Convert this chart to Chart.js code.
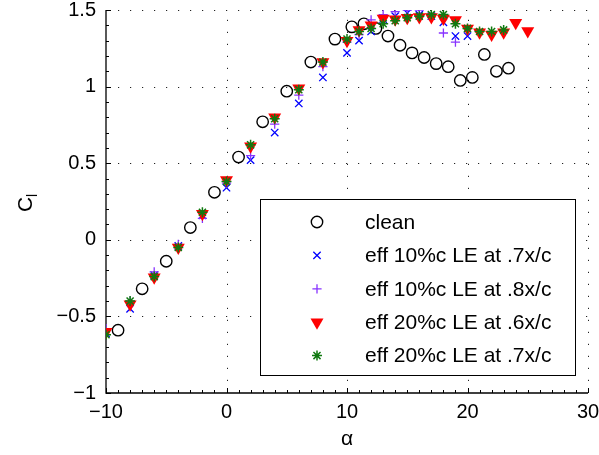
<!DOCTYPE html>
<html>
<head>
<meta charset="utf-8">
<title>Lift coefficient vs angle of attack</title>
<script src="https://cdn.jsdelivr.net/npm/chart.js"></script>
<style>
  body { margin: 0; background: #fff; }
  canvas { display: block; }
</style>
</head>
<body>
<canvas id="clChart" width="599" height="455"></canvas>
<script>
// angle of attack (deg) for the clean run and for the tripped runs
const alphaClean = [-9, -7, -5, -3, -1, 1, 3, 5, 7, 9, 10.4, 11.4, 12.4, 13.4, 14.4, 15.4, 16.4, 17.4, 18.4, 19.4, 20.4, 21.4, 22.4, 23.4];
const alphaTrip = [-10, -8, -6, -4, -2, 0, 2, 4, 6, 8, 10, 11, 12, 13, 14, 15, 16, 17, 18, 19, 20, 21, 22, 23, 24, 25];

// lift coefficient per run (tripped runs use the first N entries of alphaTrip)
const clClean = [-0.59, -0.32, -0.14, 0.08, 0.31, 0.54, 0.77, 0.97, 1.16, 1.31, 1.39, 1.41, 1.38, 1.33, 1.27, 1.22, 1.19, 1.15, 1.13, 1.04, 1.06, 1.21, 1.10, 1.12];
const cl10at7 = [-0.61, -0.45, -0.23, -0.04, 0.16, 0.34, 0.52, 0.70, 0.89, 1.06, 1.22, 1.30, 1.36, 1.44, 1.46, 1.48, 1.47, 1.46, 1.42, 1.33, 1.33];
const cl10at8 = [-0.58, -0.40, -0.21, -0.03, 0.14, 0.37, 0.55, 0.755, 0.945, 1.13, 1.29, 1.34, 1.435, 1.47, 1.49, 1.50, 1.50, 1.46, 1.35, 1.29];
const cl20at6 = [-0.60, -0.42, -0.245, -0.05, 0.17, 0.39, 0.61, 0.80, 0.99, 1.16, 1.30, 1.37, 1.40, 1.445, 1.44, 1.45, 1.455, 1.455, 1.445, 1.435, 1.38, 1.355, 1.34, 1.355, 1.417, 1.363];
const cl20at7 = [-0.62, -0.40, -0.24, -0.05, 0.18, 0.38, 0.62, 0.79, 0.98, 1.16, 1.31, 1.36, 1.38, 1.41, 1.43, 1.45, 1.46, 1.47, 1.47, 1.41, 1.38, 1.36, 1.36, 1.37];

const seriesNames = [
    'clean',
    'eff 10%c LE at .7x/c',
    'eff 10%c LE at .8x/c',
    'eff 20%c LE at .6x/c',
    'eff 20%c LE at .7x/c'
];

const xTicks = [-10, 0, 10, 20, 30];
const yTicks = [-1, -0.5, 0, 0.5, 1, 1.5];

const FONT = '"Liberation Sans", Arial, Helvetica, sans-serif';

function toPoints(xs, ys) {
    return ys.map((y, i) => ({ x: xs[i], y: y }));
}

function minusSign(v) {
    return v < 0 ? '\u2212' + Math.abs(v) : String(v);
}

// marker style for each run, shared by the plot and the legend box
const markers = [
    { pointStyle: 'circle', radius: 5.7, rotation: 0, borderWidth: 1.4, borderColor: '#000000', backgroundColor: 'rgba(0,0,0,0)' },
    { pointStyle: 'crossRot', radius: 5.2, rotation: 0, borderWidth: 1.3, borderColor: '#0000ff', backgroundColor: '#0000ff' },
    { pointStyle: 'cross', radius: 4.6, rotation: 0, borderWidth: 1.3, borderColor: '#8833ff', backgroundColor: '#8833ff' },
    { pointStyle: 'triangle', radius: 7.5, rotation: 180, borderWidth: 0, borderColor: '#ff0000', backgroundColor: '#ff0000' },
    { pointStyle: 'star', radius: 5, rotation: 0, borderWidth: 1.5, borderColor: '#107a10', backgroundColor: '#107a10' }
];

const seriesData = [
    toPoints(alphaClean, clClean),
    toPoints(alphaTrip, cl10at7),
    toPoints(alphaTrip, cl10at8),
    toPoints(alphaTrip, cl20at6),
    toPoints(alphaTrip, cl20at7)
];

// dotted grid, inward ticks and left/bottom axis lines
const axesPlugin = {
    id: 'matlabAxes',
    beforeDatasetsDraw(chart) {
        const { ctx, chartArea: a, scales: { x, y } } = chart;
        ctx.save();
        ctx.strokeStyle = '#222';
        ctx.lineWidth = 1;
        ctx.setLineDash([1.2, 10.8]);
        xTicks.forEach(v => {
            if (v === x.min) return;
            const px = Math.round(x.getPixelForValue(v)) + 0.5;
            ctx.beginPath();
            ctx.moveTo(px, a.bottom);
            ctx.lineTo(px, a.top);
            ctx.stroke();
        });
        yTicks.forEach(v => {
            if (v === y.min) return;
            const py = Math.round(y.getPixelForValue(v)) + 0.5;
            ctx.beginPath();
            ctx.moveTo(a.left, py);
            ctx.lineTo(a.right, py);
            ctx.stroke();
        });
        ctx.setLineDash([]);

        // axis lines
        ctx.strokeStyle = '#000';
        ctx.lineWidth = 1.3;
        ctx.beginPath();
        ctx.moveTo(a.left, a.top);
        ctx.lineTo(a.left, a.bottom);
        ctx.lineTo(a.right, a.bottom);
        ctx.stroke();

        // major and minor ticks, pointing into the plot
        ctx.lineWidth = 1;
        for (let v = x.min; v <= x.max; v += 1) {
            const px = Math.round(x.getPixelForValue(v)) + 0.5;
            const len = v % 10 === 0 ? 5 : 3;
            ctx.beginPath();
            ctx.moveTo(px, a.bottom);
            ctx.lineTo(px, a.bottom - len);
            ctx.stroke();
        }
        for (let k = 0; k <= 25; k++) {
            const v = y.min + k * 0.1;
            const py = Math.round(y.getPixelForValue(v)) + 0.5;
            const len = k % 5 === 0 ? 5 : 3;
            ctx.beginPath();
            ctx.moveTo(a.left, py);
            ctx.lineTo(a.left + len, py);
            ctx.stroke();
        }
        ctx.restore();
    },
    afterDraw(chart) {
        const { ctx, chartArea: a } = chart;
        ctx.save();
        ctx.fillStyle = '#000';

        // axis titles
        ctx.font = '21px ' + FONT;
        ctx.textAlign = 'center';
        ctx.textBaseline = 'middle';
        ctx.fillText('\u03b1', (a.left + a.right) / 2, 439);

        ctx.translate(24, (a.top + a.bottom) / 2);
        ctx.rotate(-Math.PI / 2);
        ctx.textAlign = 'left';
        ctx.textBaseline = 'alphabetic';
        ctx.font = '21px ' + FONT;
        const cw = ctx.measureText('C').width;
        ctx.fillText('C', -cw / 2 - 3, 8);
        ctx.font = '14px ' + FONT;
        ctx.fillText('l', cw / 2 - 3, 13);
        ctx.setTransform(1, 0, 0, 1, 0, 0);

        // legend box
        const box = { left: 260.5, top: 199.5, right: 575.5, bottom: 375.5 };
        ctx.fillStyle = '#fff';
        ctx.fillRect(box.left, box.top, box.right - box.left, box.bottom - box.top);
        ctx.strokeStyle = '#000';
        ctx.lineWidth = 1;
        ctx.strokeRect(box.left, box.top, box.right - box.left, box.bottom - box.top);

        ctx.font = '21px ' + FONT;
        ctx.textAlign = 'left';
        ctx.textBaseline = 'middle';
        seriesNames.forEach((name, i) => {
            const rowY = 222 + i * 33.4;
            const m = markers[i];
            ctx.fillStyle = m.backgroundColor;
            ctx.strokeStyle = m.borderColor;
            ctx.lineWidth = m.borderWidth;
            if (Chart.helpers && Chart.helpers.drawPoint) {
                Chart.helpers.drawPoint(ctx, m, 317, rowY);
            }
            ctx.fillStyle = '#000';
            ctx.fillText(name, 365, rowY + 1);
        });
        ctx.restore();
    }
};

const ctx = document.getElementById('clChart');

new Chart(ctx, {

    type: 'scatter',

    data: {
        datasets: seriesData.map((pts, i) => ({
            label: seriesNames[i],
            data: pts,
            showLine: false,
            order: 5 - i,
            pointStyle: markers[i].pointStyle,
            pointRadius: markers[i].radius,
            pointRotation: markers[i].rotation,
            pointBorderWidth: markers[i].borderWidth,
            pointBorderColor: markers[i].borderColor,
            pointBackgroundColor: markers[i].backgroundColor,
            pointHoverRadius: markers[i].radius
        }))
    },

    options: {

        responsive: false,

        animation: false,

        layout: {
            padding: { top: 10, right: 11, left: 0, bottom: 0 }
        },

        plugins: {
            legend: { display: false },
            tooltip: { enabled: false }
        },

        scales: {

            x: {
                type: 'linear',
                min: -10,
                max: 30,
                // fixed band below the plot; label overhang is covered by layout padding
                afterFit: s => {
                    s.height = 62;
                    s.paddingLeft = 0;
                    s.paddingRight = 0;
                },
                afterBuildTicks: s => { s.ticks = xTicks.map(v => ({ value: v })); },
                grid: { display: false, drawTicks: false },
                border: { display: false },
                ticks: {
                    padding: 7,
                    color: '#000',
                    font: { family: FONT, size: 20 },
                    maxRotation: 0,
                    callback: v => minusSign(v)
                }
            },

            y: {
                type: 'linear',
                min: -1,
                max: 1.5,
                afterFit: s => {
                    s.width = 106;
                    s.paddingTop = 0;
                    s.paddingBottom = 0;
                },
                afterBuildTicks: s => { s.ticks = yTicks.map(v => ({ value: v })); },
                grid: { display: false, drawTicks: false },
                border: { display: false },
                ticks: {
                    padding: 10,
                    color: '#000',
                    font: { family: FONT, size: 20 },
                    callback: v => minusSign(v)
                }
            }

        }

    },

    plugins: [axesPlugin]

});
</script>
</body>
</html>
